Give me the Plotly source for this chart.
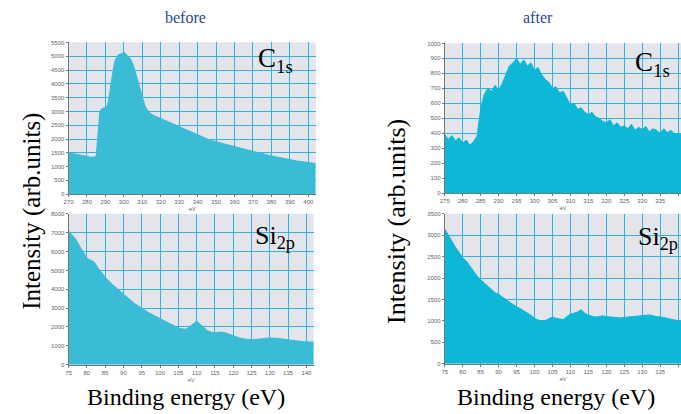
import plotly.graph_objects as go

# ---- data ----
c1s_before_ev = [270, 272, 274, 276, 278, 280, 282, 284, 285, 286, 287, 288, 289, 290, 291, 292, 293, 294, 295,
                 296, 297, 298, 299, 300, 301, 302, 303, 304, 305, 306, 307, 308, 309, 310, 311, 312, 314, 316,
                 318, 320, 323, 326, 330, 334, 338, 342, 346, 350, 354, 358, 362, 366, 370, 374, 378, 382, 386,
                 390, 394, 398, 402, 404]
c1s_before_int = [1500, 1480, 1450, 1420, 1400, 1370, 1340, 1350, 1380, 2200, 3000, 3100, 3120, 3150, 3200, 3500,
                  4000, 4500, 4800, 4950, 5050, 5080, 5100, 5150, 5100, 5020, 4950, 4850, 4700, 4500, 4250, 4000,
                  3750, 3500, 3300, 3120, 2950, 2860, 2800, 2740, 2660, 2580, 2450, 2330, 2200, 2080, 1980, 1900,
                  1820, 1760, 1690, 1620, 1540, 1470, 1420, 1360, 1300, 1250, 1200, 1170, 1130, 1110]

si2p_before_ev = [75, 76, 77, 78, 79, 80, 81, 82, 83, 84, 85, 87, 89, 91, 93, 95, 97, 99, 101, 103, 105, 106,
                  107, 108, 109, 110, 111, 112, 113, 114, 115, 116, 117, 118, 119, 120, 122, 124, 126, 128, 130,
                  132, 134, 136, 138, 140, 142]
si2p_before_int = [7100, 6900, 6650, 6300, 5950, 5650, 5550, 5450, 5150, 4900, 4650, 4250, 3900, 3550, 3250, 3000,
                   2750, 2550, 2350, 2150, 1950, 1900, 1880, 2000, 2150, 2300, 2150, 1950, 1800, 1720, 1700, 1720,
                   1730, 1680, 1600, 1520, 1400, 1340, 1340, 1380, 1420, 1400, 1340, 1300, 1250, 1210, 1200]

c1s_after_ev = [275, 276, 277, 278, 279, 280, 281, 282, 283, 284, 285, 286, 287, 288, 289, 290, 291, 292, 293,
                294, 295, 296, 297, 298, 299, 300, 301, 302, 303, 304, 305, 306, 307, 308, 309, 310, 311, 312,
                313, 314, 315, 316, 317, 318, 319, 320, 321, 322, 323, 324, 325, 326, 327, 328, 329, 330, 331,
                332, 333, 334, 335, 336, 337, 338, 339, 340, 341]
c1s_after_int = [390, 360, 385, 350, 370, 335, 355, 320, 345, 380, 560, 660, 700, 680, 720, 690, 730, 790, 850,
                 870, 900, 860, 890, 850, 870, 820, 840, 790, 760, 740, 700, 710, 670, 680, 630, 590, 600, 560,
                 570, 540, 525, 540, 510, 500, 480, 470, 490, 450, 470, 440, 450, 430, 460, 420, 440, 425, 445,
                 410, 430, 420, 400, 430, 405, 420, 395, 400, 390]

si2p_after_ev = [75, 76, 77, 78, 79, 80, 81, 82, 83, 84, 85, 86, 87, 88, 89, 90, 91, 92, 93, 94, 95, 96, 97, 98,
                 99, 100, 101, 102, 103, 104, 105, 106, 107, 108, 109, 110, 111, 112, 113, 114, 115, 116, 117,
                 118, 119, 120, 122, 124, 126, 128, 130, 132, 134, 136, 138, 140, 141]
si2p_after_int = [3150, 3000, 2880, 2720, 2600, 2470, 2400, 2280, 2150, 2050, 1960, 1880, 1800, 1720, 1660, 1620,
                  1550, 1500, 1440, 1380, 1330, 1290, 1240, 1190, 1130, 1060, 1020, 1000, 1010, 1050, 1090, 1060,
                  1040, 1030, 1100, 1160, 1180, 1210, 1260, 1180, 1130, 1110, 1090, 1100, 1120, 1100, 1080, 1070,
                  1090, 1110, 1130, 1140, 1100, 1080, 1040, 1000, 990]

fill_left = "#3bbcd6"
fill_right = "#0db8d6"
grid_col = "#2fb3e6"
tick_font = dict(family="Liberation Sans", size=6, color="#666")

fig = go.Figure()

panels = [
    ("x", "y", c1s_before_ev, c1s_before_int, fill_left),
    ("x2", "y2", si2p_before_ev, si2p_before_int, fill_left),
    ("x3", "y3", c1s_after_ev, c1s_after_int, fill_right),
    ("x4", "y4", si2p_after_ev, si2p_after_int, fill_right),
]
for xa, ya, xs, ys, col in panels:
    fig.add_trace(go.Scatter(x=xs, y=ys, xaxis=xa, yaxis=ya, mode="lines", fill="tozeroy",
                             line=dict(color=col, width=1), fillcolor=col, showlegend=False,
                             hoverinfo="skip"))

def xax(domain, anchor, rng, dtick, t0):
    return dict(domain=domain, anchor=anchor, range=rng, dtick=dtick, tick0=t0, showgrid=True,
                gridcolor=grid_col, gridwidth=1, zeroline=False, showline=True, linecolor="#777",
                linewidth=1, ticks="outside", ticklen=2, tickcolor="#777", tickfont=tick_font,
                title=dict(text="eV", font=dict(size=6, color="#666"), standoff=1))

def yax(domain, anchor, rng, dtick):
    return dict(domain=domain, anchor=anchor, range=rng, dtick=dtick, showgrid=True,
                gridcolor=grid_col, gridwidth=1, zeroline=False, showline=True, linecolor="#777",
                linewidth=1, ticks="outside", ticklen=2, tickcolor="#777", tickfont=tick_font)

W, H = 681, 414
def dx(a, b):
    return [a / W, b / W]
def dy(top, bot):
    return [1 - bot / H, 1 - top / H]

fig.update_layout(
    width=W, height=H, margin=dict(l=0, r=0, t=0, b=0),
    paper_bgcolor="white", plot_bgcolor="#e4e5ea",
    xaxis=xax(dx(64, 313), "y", [270, 404], 10, 270),
    yaxis=yax(dy(40, 194), "x", [0, 5500], 500),
    xaxis2=xax(dx(64, 311), "y2", [75, 142], 5, 75),
    yaxis2=yax(dy(214, 367), "x2", [0, 8000], 1000),
    xaxis3=xax(dx(443, 681), "y3", [275, 340.8], 5, 275),
    yaxis3=yax(dy(41, 193), "x3", [0, 1000], 100),
    xaxis4=xax(dx(443, 681), "y4", [75, 140.8], 5, 75),
    yaxis4=yax(dy(214, 366), "x4", [0, 3500], 500),
)

serif = "Liberation Serif"
ann = [
    dict(text="before", x=182 / W, y=1 - 15 / H, font=dict(family=serif, size=16, color="#2d4a8a")),
    dict(text="after", x=537 / W, y=1 - 15 / H, font=dict(family=serif, size=16, color="#2d4a8a")),
    dict(text="Intensity (arb.units)", x=27 / W, y=1 - 211 / H, textangle=-90,
         font=dict(family=serif, size=25, color="black")),
    dict(text="Intensity (arb.units)", x=395 / W, y=1 - 222 / H, textangle=-90,
         font=dict(family=serif, size=26, color="black")),
    dict(text="Binding energy (eV)", x=182 / W, y=1 - 400 / H,
         font=dict(family=serif, size=24, color="black")),
    dict(text="Binding energy (eV)", x=555 / W, y=1 - 400 / H,
         font=dict(family=serif, size=24, color="black")),
    dict(text="C<sub>1s</sub>", x=272 / W, y=1 - 58 / H, font=dict(family=serif, size=27, color="black")),
    dict(text="Si<sub>2p</sub>", x=272 / W, y=1 - 237 / H, font=dict(family=serif, size=26, color="black")),
    dict(text="C<sub>1s</sub>", x=652 / W, y=1 - 62 / H, font=dict(family=serif, size=27, color="black")),
    dict(text="Si<sub>2p</sub>", x=658 / W, y=1 - 238 / H, font=dict(family=serif, size=26, color="black")),
]
for a in ann:
    a.update(xref="paper", yref="paper", showarrow=False, xanchor="center", yanchor="middle")
    fig.add_annotation(**a)

fig.write_html("out.html")
